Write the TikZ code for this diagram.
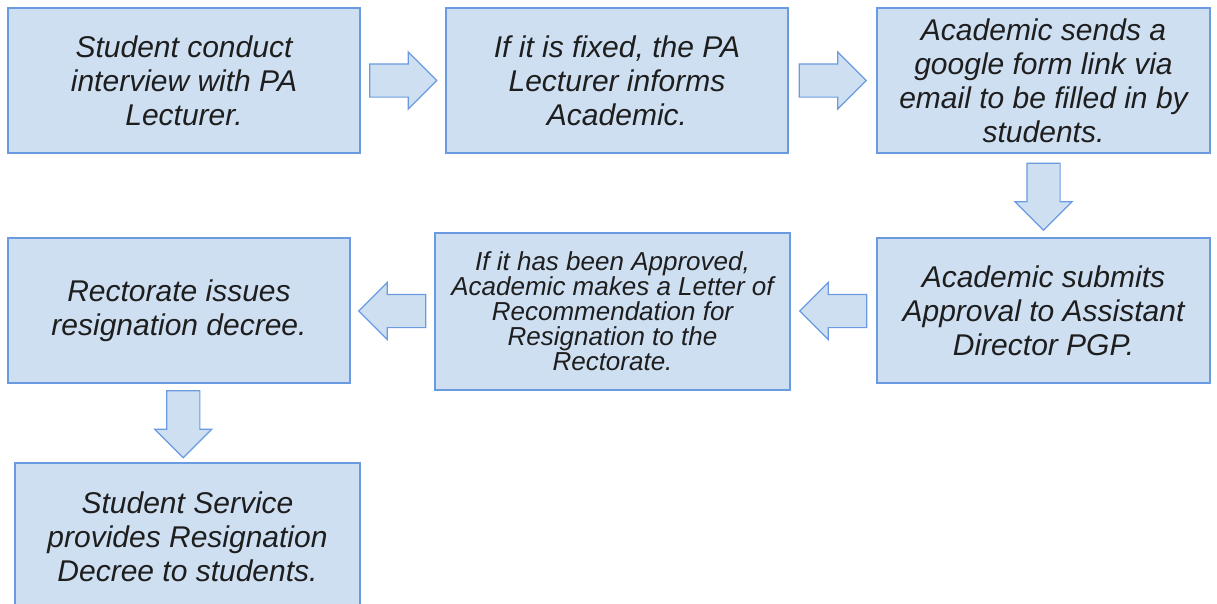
\documentclass[tikz,border=0pt]{standalone}
\usepackage{fontspec}
\setmainfont{Liberation Sans}
\usetikzlibrary{shapes.arrows,calc}

\definecolor{boxfill}{HTML}{CFDFF2}
\definecolor{boxline}{HTML}{6A9BE0}
\definecolor{boxtext}{HTML}{1E1E1E}

\tikzset{
	stepbox/.style={draw=boxline, line width=1.6pt, fill=boxfill, text=boxtext,
		align=center, inner sep=0pt, font=\fontsize{30}{34}\selectfont\itshape},
	blockarrow/.style={single arrow, draw=boxline, line width=1.2pt, fill=boxfill,
		inner xsep=0pt, inner ysep=16pt, minimum height=67pt, minimum width=56pt,
		single arrow head extend=12pt},
	rightarrow/.style={blockarrow, xshift=-8pt},
	leftarrow/.style={blockarrow, shape border rotate=180, xshift=8pt},
	downarrow/.style={blockarrow, shape border rotate=270, inner xsep=16pt, inner ysep=0pt, yshift=7pt}
}

\begin{document}
\begin{tikzpicture}[x=1pt,y=-1pt]
		\clip (0,0) rectangle (1217,603);
		% boxes
		\node[stepbox, minimum width=352pt, minimum height=145pt] (interview) at (184,80.5)
		{Student conduct\\interview with PA\\Lecturer.};
		\node[stepbox, minimum width=342pt, minimum height=145pt] (informs) at (617,80.5)
		{If it is fixed, the PA\\Lecturer informs\\Academic.};
		\node[stepbox, minimum width=333pt, minimum height=145pt] (gform) at (1043.5,80.5)
		{Academic sends a\\google form link via\\email to be filled in by\\students.};
		\node[stepbox, minimum width=333pt, minimum height=145pt] (submits) at (1043.5,310.5)
		{Academic submits\\Approval to Assistant\\Director PGP.};
		\node[stepbox, minimum width=355pt, minimum height=157pt,
		font=\fontsize{26}{25}\selectfont\itshape] (letter) at (612.5,311.5)
		{If it has been Approved,\\Academic makes a Letter of\\Recommendation for\\Resignation to the\\Rectorate.};
		\node[stepbox, minimum width=342pt, minimum height=145pt] (decree) at (179,310.5)
		{Rectorate issues\\resignation decree.};
		\node[stepbox, minimum width=345pt, minimum height=148pt] (service) at (187.5,537)
		{Student Service\\provides Resignation\\Decree to students.};
		% arrows
		\node[rightarrow] (a1) at ($(interview.east)!.5!(informs.west)$) {};
		\node[rightarrow] (a2) at ($(informs.east)!.5!(gform.west)$) {};
		\node[downarrow] (a3) at ($(gform.south)!.5!(submits.north)$) {};
		\node[leftarrow] (a4) at ($(submits.west)!.5!(letter.east)$) {};
		\node[leftarrow] (a5) at ($(letter.west)!.5!(decree.east)$) {};
		\node[downarrow] (a6) at ($(decree.south)!.5!(service.north)$) {};
	\end{tikzpicture}
\end{document}
